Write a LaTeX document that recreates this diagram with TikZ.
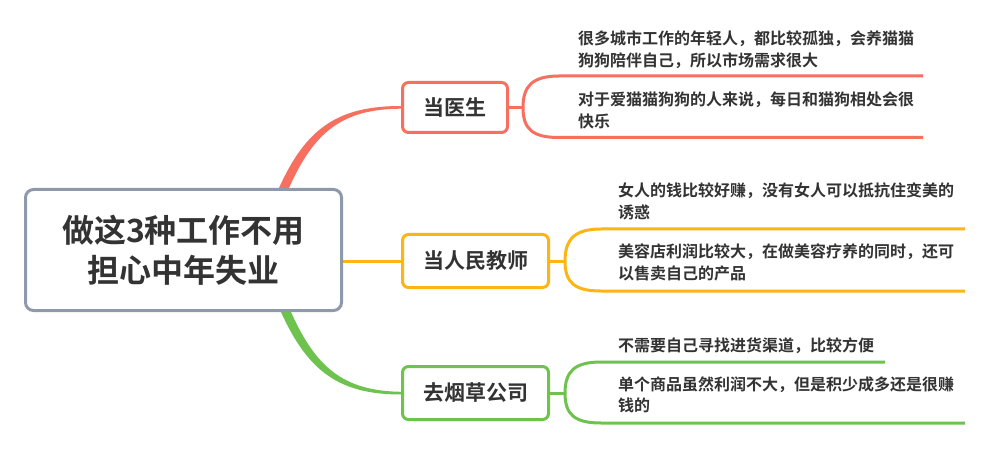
\documentclass[tikz,border=0pt]{standalone}
\usepackage{fontspec}
\setmainfont{Noto Sans CJK SC}[BoldFont={Noto Sans CJK SC Bold}]
\usetikzlibrary{calc,backgrounds}
\definecolor{cred}{HTML}{F7705F}
\definecolor{corange}{HTML}{FDB515}
\definecolor{cgreen}{HTML}{6EC24E}
\definecolor{cgray}{HTML}{8E99AB}
\definecolor{ctext}{HTML}{333333}
\tikzset{
  rootbox/.style={draw=cgray, line width=3pt, rounded corners=8pt, fill=white, align=center, text=ctext, font=\fontsize{32}{40}\selectfont\bfseries, inner sep=0pt},
  branchbox/.style={line width=3pt, rounded corners=6pt, fill=white, text=ctext, font=\fontsize{21}{25}\selectfont\bfseries, inner sep=0pt},
  leaf/.style={anchor=west, align=left, inner sep=0pt, text=ctext, font=\fontsize{16}{21.5}\selectfont\bfseries},
  wire/.style={line width=3pt, line cap=butt}
}
\begin{document}
\begin{tikzpicture}[x=1pt,y=-1pt]
\useasboundingbox (0,0) rectangle (1000,462);

% nodes
\node[rootbox, minimum width=316pt, minimum height=121pt] (root) at (183.5,250) {做这3种工作不用\\担心中年失业};
\node[branchbox, draw=cred, minimum width=105pt, minimum height=50pt] (b1) at (455,107.5) {当医生};
\node[branchbox, draw=corange, minimum width=146pt, minimum height=53pt] (b2) at (475.5,261) {当人民教师};
\node[branchbox, draw=cgreen, minimum width=146pt, minimum height=53pt] (b3) at (475.5,393) {去烟草公司};

\node[leaf] (l11) at (578,49.5) {很多城市工作的年轻人，都比较孤独，会养猫猫\\狗狗陪伴自己，所以市场需求很大};
\node[leaf] (l12) at (578,110.5) {对于爱猫猫狗狗的人来说，每日和猫狗相处会很\\快乐};
\node[leaf] (l21) at (618,201.5) {女人的钱比较好赚，没有女人可以抵抗住变美的\\诱惑};
\node[leaf] (l22) at (618,262.5) {美容店利润比较大，在做美容疗养的同时，还可\\以售卖自己的产品};
\node[leaf] (l31) at (618,346) {不需要自己寻找进货渠道，比较方便};
\node[leaf] (l32) at (618,395) {单个商品虽然利润不大，但是积少成多还是很赚\\钱的};

% fork points and line ends
\coordinate (f1) at (523,107.5);
\coordinate (f2) at (565,261);
\coordinate (f3) at (565,393);
\coordinate (e11) at (923,76);
\coordinate (e12) at (923,137.5);
\coordinate (e21) at (965,229);
\coordinate (e22) at (965,291);
\coordinate (e31) at (885,362);
\coordinate (e32) at (965,423);

\begin{scope}[on background layer]
\fill[white] (0,0) rectangle (1000,462);
% root to branches
\fill[cred] ($(root.north east)+(-64,0)$) .. controls (306,128) and (338,106) .. ($(b1.west)+(0,-1.5)$)
  -- ($(b1.west)+(0,1.2)$) .. controls (342,109) and (314,132) .. ($(root.north east)+(-54,0)$) -- cycle;
\fill[cgreen] ($(root.south east)+(-62,0)$) .. controls (308,372) and (340,394.5) .. ($(b3.west)+(0,1.5)$)
  -- ($(b3.west)+(0,-1.2)$) .. controls (344,391) and (316,368) .. ($(root.south east)+(-52,0)$) -- cycle;
\draw[wire, corange] (root.east |- b2.west) -- (b2.west);

% branches to leaves
\draw[wire, cred] (b1.east) -- (f1);
\draw[wire, cred] (f1) .. controls ($(f1)+(0,-22)$) and ($(f1 |- e11)+(10,0)$) .. ($(f1 |- e11)+(36,0)$) -- (e11);
\draw[wire, cred] (f1) .. controls ($(f1)+(0,22)$) and ($(f1 |- e12)+(10,0)$) .. ($(f1 |- e12)+(36,0)$) -- (e12);

\draw[wire, corange] (b2.east) -- (f2);
\draw[wire, corange] (f2) .. controls ($(f2)+(0,-22)$) and ($(f2 |- e21)+(10,0)$) .. ($(f2 |- e21)+(36,0)$) -- (e21);
\draw[wire, corange] (f2) .. controls ($(f2)+(0,22)$) and ($(f2 |- e22)+(10,0)$) .. ($(f2 |- e22)+(36,0)$) -- (e22);

\draw[wire, cgreen] (b3.east) -- (f3);
\draw[wire, cgreen] (f3) .. controls ($(f3)+(0,-22)$) and ($(f3 |- e31)+(10,0)$) .. ($(f3 |- e31)+(36,0)$) -- (e31);
\draw[wire, cgreen] (f3) .. controls ($(f3)+(0,22)$) and ($(f3 |- e32)+(10,0)$) .. ($(f3 |- e32)+(36,0)$) -- (e32);
\end{scope}
\end{tikzpicture}
\end{document}
